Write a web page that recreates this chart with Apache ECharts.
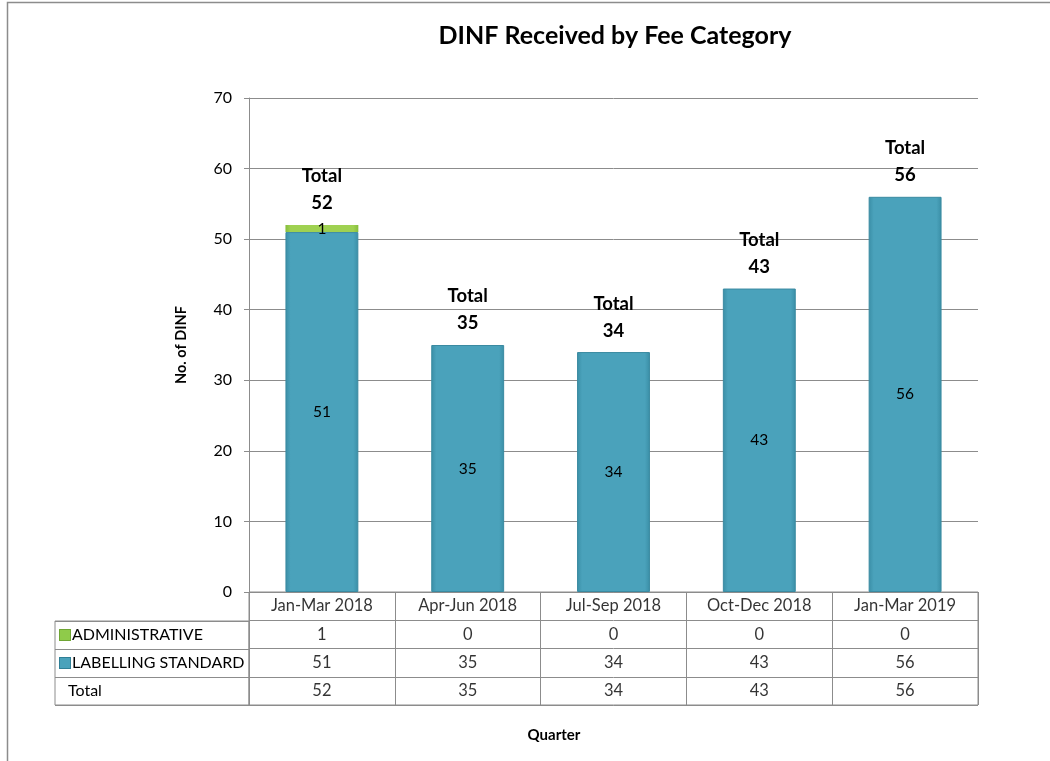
<!DOCTYPE html>
<html>
<head>
<meta charset="utf-8">
<script src="https://cdn.jsdelivr.net/npm/echarts@6/dist/echarts.min.js"></script>
<style>html,body{margin:0;padding:0;background:#fff;}#c{width:1050px;height:761px;}</style>
</head>
<body>
<div id="c"></div>
<script>
var categories = ['Jan-Mar 2018', 'Apr-Jun 2018', 'Jul-Sep 2018', 'Oct-Dec 2018', 'Jan-Mar 2019'];
var administrative = [1, 0, 0, 0, 0];
var labellingStandard = [51, 35, 34, 43, 56];
var totals = [52, 35, 34, 43, 56];
var tableRows = ['ADMINISTRATIVE', 'LABELLING STANDARD', 'Total'];
var yTicks = [0, 10, 20, 30, 40, 50, 60, 70];

var FONT = 'Lato';
var tealGrad = new echarts.graphic.LinearGradient(0, 0, 1, 0, [
  {offset: 0, color: '#3a8ea6'}, {offset: 0.07, color: '#4aa2bb'},
  {offset: 0.93, color: '#4aa2bb'}, {offset: 1, color: '#3a8ea6'}]);
var greenGrad = new echarts.graphic.LinearGradient(0, 0, 1, 0, [
  {offset: 0, color: '#86bd3c'}, {offset: 0.07, color: '#9fd151'},
  {offset: 0.93, color: '#9fd151'}, {offset: 1, color: '#86bd3c'}]);

var tableData = [];
var rowsVals = [administrative, labellingStandard, totals];
for (var r = 0; r < rowsVals.length; r++) {
  for (var i = 0; i < categories.length; i++) {
    tableData.push([i, r + 1, rowsVals[r][i]]);
  }
}
var headerData = categories.map(function (c, i) { return [i, 0, c]; });

var chart = echarts.init(document.getElementById('c'));
chart.setOption({
  animation: false,
  textStyle: {fontFamily: FONT},
  title: [
    {text: 'DINF Received by Fee Category', left: 610, top: 18, textAlign: 'center',
     textStyle: {fontFamily: FONT, fontSize: 25, fontWeight: 'bold', color: '#000'}},
    {text: 'Quarter', left: 549, top: 723, textAlign: 'center',
     textStyle: {fontFamily: FONT, fontSize: 15, fontWeight: 'bold', color: '#000'}}
  ],
  graphic: [
    {type: 'rect', shape: {x: 7.5, y: 2.5, width: 1400, height: 1200}, style: {fill: 'none', stroke: '#8c8c8c', lineWidth: 1.5}, silent: true}
  ],
  grid: [
    {left: 249, right: 72, top: 98, height: 494},
    {left: 249, right: 72, top: 592, height: 113, show: true, borderColor: '#8c8c8c', borderWidth: 1},
    {left: 55, width: 194, top: 621, height: 84, show: true, borderColor: '#8c8c8c', borderWidth: 1}
  ],
  xAxis: [
    {type: 'category', gridIndex: 0, data: categories, axisLine: {show: false}, axisTick: {show: false}, axisLabel: {show: false}},
    {type: 'category', gridIndex: 1, data: categories, axisLine: {show: false}, axisTick: {show: false}, axisLabel: {show: false},
     splitLine: {show: true, lineStyle: {color: '#8c8c8c'}}},
    {type: 'value', gridIndex: 2, show: false, min: 0, max: 1}
  ],
  yAxis: [
    {type: 'value', gridIndex: 0, min: 0, max: 70, interval: 10,
     name: 'No. of DINF', nameLocation: 'middle', nameGap: 60,
     nameTextStyle: {fontFamily: FONT, fontSize: 14.5, fontWeight: 'bold', color: '#000'},
     axisLine: {show: true, lineStyle: {color: '#8c8c8c'}},
     axisTick: {show: true, length: 5, lineStyle: {color: '#8c8c8c'}},
     axisLabel: {fontFamily: FONT, fontSize: 16, color: '#000', margin: 17,
       formatter: function (v) { return yTicks.indexOf(v) >= 0 ? String(v) : ''; }},
     splitLine: {show: true, lineStyle: {color: '#8c8c8c'}}},
    {type: 'category', gridIndex: 1, inverse: true, data: ['h'].concat(tableRows),
     axisLine: {show: false}, axisTick: {show: false}, axisLabel: {show: false},
     splitLine: {show: true, lineStyle: {color: '#8c8c8c'}}},
    {type: 'category', gridIndex: 2, inverse: true, data: tableRows,
     axisLine: {show: false}, axisTick: {show: false},
     splitLine: {show: true, lineStyle: {color: '#8c8c8c'}},
     axisLabel: {inside: true, margin: 5, align: 'left', fontFamily: FONT, fontSize: 16, color: '#000',
       formatter: function (v) {
         if (v === 'ADMINISTRATIVE') return '{g|}{sp|}' + v;
         if (v === 'LABELLING STANDARD') return '{b|}{sp|}' + v;
         return '{s|}' + v;
       },
       rich: {
         g: {width: 10, height: 10, backgroundColor: '#8fcb4a', borderColor: '#6fa534', borderWidth: 1},
         b: {width: 10, height: 10, backgroundColor: '#4aa2bb', borderColor: '#2f7f96', borderWidth: 1},
         sp: {width: 2},
         s: {width: 8}
       }}}
  ],
  series: [
    {name: 'LABELLING STANDARD', type: 'bar', stack: 's', xAxisIndex: 0, yAxisIndex: 0, barWidth: '50%',
     data: labellingStandard,
     itemStyle: {color: tealGrad, borderColor: '#3a8aa1', borderWidth: 1},
     label: {show: true, position: 'inside', fontFamily: FONT, fontSize: 15.5, color: '#000'}},
    {name: 'ADMINISTRATIVE', type: 'bar', stack: 's', xAxisIndex: 0, yAxisIndex: 0, barWidth: '50%',
     data: administrative,
     itemStyle: {color: greenGrad, borderWidth: 0},
     label: {show: true, position: 'inside', fontFamily: FONT, fontSize: 15.5, color: '#000',
       formatter: function (p) { return p.value > 0 ? String(p.value) : ''; }}},
    {name: 'TotalLabel', type: 'bar', xAxisIndex: 0, yAxisIndex: 0, barWidth: '50%', barGap: '-100%', z: 1,
     data: totals, itemStyle: {color: 'rgba(0,0,0,0)'}, silent: true,
     label: {show: true, position: 'top', distance: 8, fontFamily: FONT, fontSize: 18.5, fontWeight: 'bold',
       color: '#000', lineHeight: 27, formatter: function (p) { return 'Total\n' + p.value; }}},
    {name: 'header', type: 'scatter', xAxisIndex: 1, yAxisIndex: 1, symbolSize: 0, silent: true,
     data: headerData,
     label: {show: true, position: 'inside', fontFamily: FONT, fontSize: 16.5, color: '#000',
       formatter: function (p) { return p.value[2]; }}},
    {name: 'cells', type: 'scatter', xAxisIndex: 1, yAxisIndex: 1, symbolSize: 0, silent: true,
     data: tableData,
     label: {show: true, position: 'inside', fontFamily: FONT, fontSize: 16.5, color: '#000',
       formatter: function (p) { return String(p.value[2]); }}}
  ]
});
</script>
</body>
</html>
